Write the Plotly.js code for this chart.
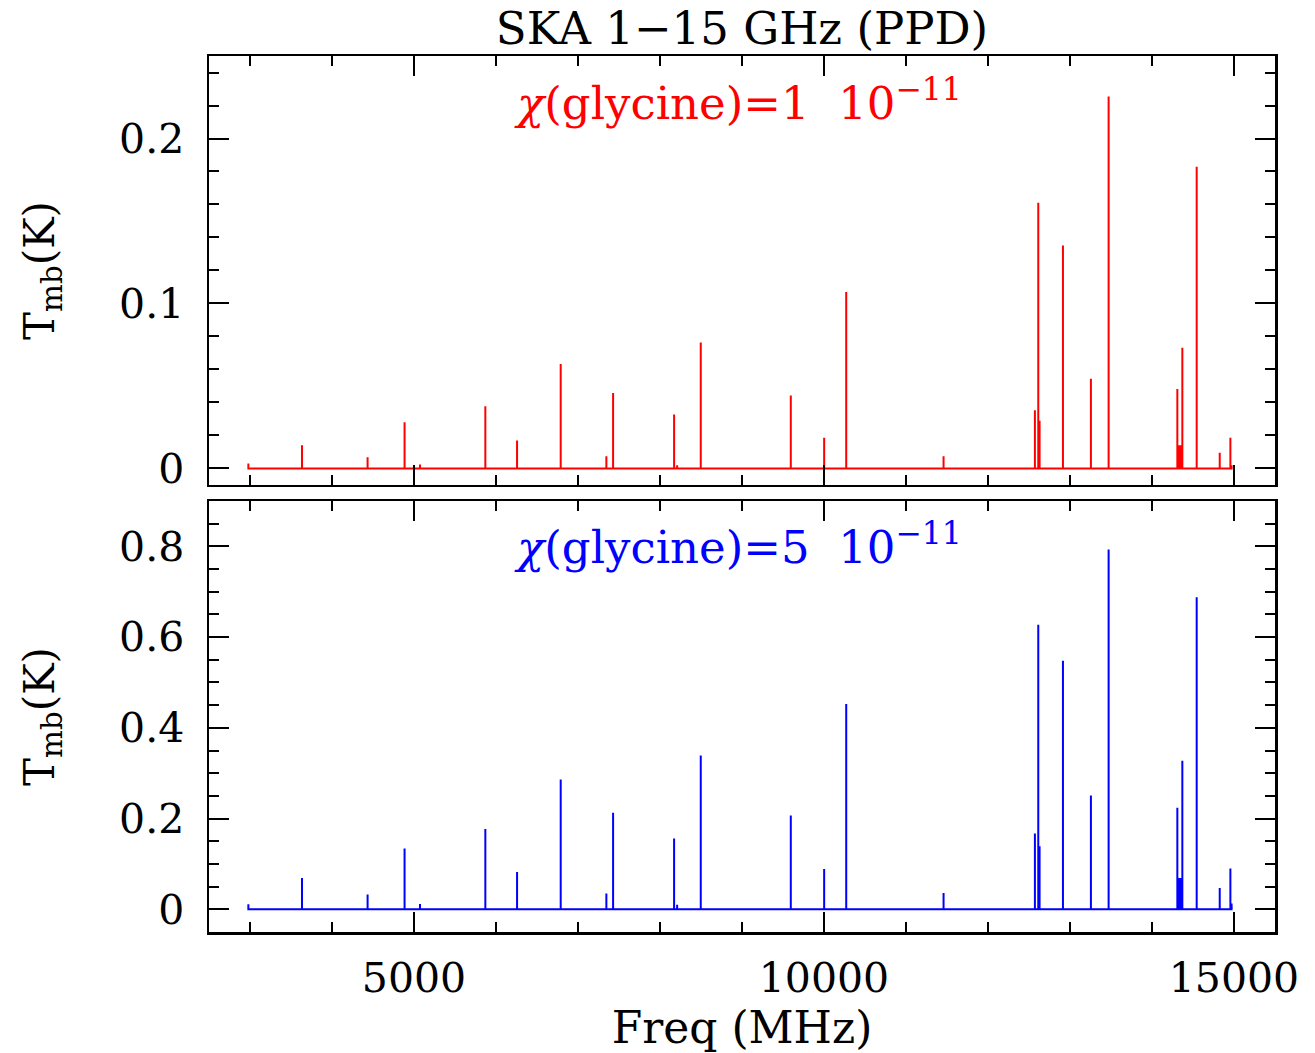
<!DOCTYPE html>
<html>
<head>
<meta charset="utf-8">
<script src="https://cdn.plot.ly/plotly-3.0.1.min.js"></script>
<style>
  html, body { margin: 0; padding: 0; background: #ffffff; }
  #chart { width: 1315px; height: 1053px; }
</style>
</head>
<body>
<div id="chart"></div>
<script>
// Line frequencies (MHz)
const lineFreqs = [2980, 3634, 4434, 4885, 5073, 5870, 6257, 6789, 7346, 7428,
  8172, 8209, 8497, 9595, 10002, 10271, 11458, 12572, 12613, 12629,
  12914, 13255, 13471, 14309, 14323, 14337, 14352, 14370, 14545, 14826, 14956, 14970];
// Peak Tmb (K), chi(glycine) = 1e-11
const tmbLow = [0.003, 0.0141, 0.0068, 0.028, 0.0024, 0.0377, 0.0169, 0.0633, 0.0074, 0.0458,
  0.0327, 0.002, 0.0764, 0.0442, 0.0186, 0.1069, 0.0074, 0.0353, 0.1611, 0.029,
  0.1351, 0.0544, 0.2255, 0.0482, 0.0141, 0.0141, 0.0141, 0.0732, 0.1829, 0.0095, 0.0186, 0.002];
// Peak Tmb (K), chi(glycine) = 5e-11
const tmbHigh = [0.011, 0.069, 0.0324, 0.134, 0.0118, 0.177, 0.0824, 0.286, 0.0346, 0.2126,
  0.156, 0.010, 0.339, 0.2068, 0.089, 0.4525, 0.036, 0.167, 0.627, 0.139,
  0.548, 0.251, 0.793, 0.2237, 0.069, 0.069, 0.069, 0.3274, 0.688, 0.047, 0.0898, 0.013];
const baseStart = 2975;
const baseEnd = 14972;

const titleText = 'SKA 1\u221215 GHz (PPD)';
const yTitle = 'T<sub>mb</sub>(K)';
const xTitle = 'Freq (MHz)';
const labelLow = '<i>\u03C7</i>(glycine)=1\u00A0\u00A010<sup>\u221211</sup>';
const labelHigh = '<i>\u03C7</i>(glycine)=5\u00A0\u00A010<sup>\u221211</sup>';

function spectrum(freqs, peaks) {
  const xs = [baseStart], ys = [0];
  for (let i = 0; i < freqs.length; i++) {
    xs.push(freqs[i], freqs[i], freqs[i]);
    ys.push(0, peaks[i], 0);
  }
  xs.push(baseEnd); ys.push(0);
  return {xs, ys};
}

const s1 = spectrum(lineFreqs, tmbLow);
const s2 = spectrum(lineFreqs, tmbHigh);

const FONT = 'DejaVu Serif, Liberation Serif, serif';

const traces = [
  {x: s1.xs, y: s1.ys, type: 'scatter', mode: 'lines', xaxis: 'x', yaxis: 'y',
   line: {color: '#ff0000', width: 2}, hoverinfo: 'skip'},
  {x: s2.xs, y: s2.ys, type: 'scatter', mode: 'lines', xaxis: 'x2', yaxis: 'y2',
   line: {color: '#0000ff', width: 2}, hoverinfo: 'skip'}
];

const axCommon = {
  showline: true, linecolor: '#000', linewidth: 2.5, mirror: 'allticks',
  ticks: 'inside', tickcolor: '#000', tickwidth: 2, zeroline: false, showgrid: false,
  tickfont: {family: FONT, size: 41, color: '#000'}
};

const layout = {
  width: 1315, height: 1053,
  paper_bgcolor: '#fff', plot_bgcolor: '#fff',
  showlegend: false,
  margin: {l: 209, r: 40, t: 56, b: 121},
  title: {text: titleText, font: {family: FONT, size: 45, color: '#000'},
          xref: 'paper', x: 0.5, xanchor: 'center', yref: 'container', y: 0.973, yanchor: 'middle'},
  xaxis: Object.assign({}, axCommon, {
    domain: [0, 1], range: [2500, 15500], anchor: 'y',
    tick0: 0, dtick: 5000, ticklen: 20, showticklabels: false,
    minor: {dtick: 1000, tick0: 0, ticklen: 10, tickwidth: 2, tickcolor: '#000', ticks: 'inside'}
  }),
  yaxis: Object.assign({}, axCommon, {
    domain: [0.5103, 1], range: [-0.01, 0.25], anchor: 'x',
    tick0: 0, dtick: 0.1, ticklen: 20, ticklabelstandoff: 14,
    minor: {dtick: 0.02, tick0: 0, ticklen: 10, tickwidth: 2, tickcolor: '#000', ticks: 'inside'},
    title: {text: yTitle, font: {family: FONT, size: 42, color: '#000'}, standoff: 52}
  }),
  xaxis2: Object.assign({}, axCommon, {
    domain: [0, 1], range: [2500, 15500], anchor: 'y2',
    tick0: 0, dtick: 5000, ticklen: 20, ticklabelstandoff: 8, tickformat: 'd',
    minor: {dtick: 1000, tick0: 0, ticklen: 10, tickwidth: 2, tickcolor: '#000', ticks: 'inside'},
    title: {text: xTitle, font: {family: FONT, size: 44, color: '#000'}, standoff: 6}
  }),
  yaxis2: Object.assign({}, axCommon, {
    domain: [0, 0.492], range: [-0.05, 0.9], anchor: 'x2',
    tick0: 0, dtick: 0.2, ticklen: 20, ticklabelstandoff: 14,
    minor: {dtick: 0.05, tick0: 0, ticklen: 10, tickwidth: 2, tickcolor: '#000', ticks: 'inside'},
    title: {text: yTitle, font: {family: FONT, size: 42, color: '#000'}, standoff: 52}
  }),
  annotations: [
    {text: labelLow, xref: 'x', yref: 'y', x: 6200, y: 0.223, xanchor: 'left', yanchor: 'middle',
     showarrow: false, font: {family: FONT, size: 45, color: '#ff0000'}},
    {text: labelHigh, xref: 'x2', yref: 'y2', x: 6200, y: 0.805, xanchor: 'left', yanchor: 'middle',
     showarrow: false, font: {family: FONT, size: 45, color: '#0000ff'}}
  ]
};

Plotly.newPlot('chart', traces, layout, {displayModeBar: false, staticPlot: true});
</script>
</body>
</html>
